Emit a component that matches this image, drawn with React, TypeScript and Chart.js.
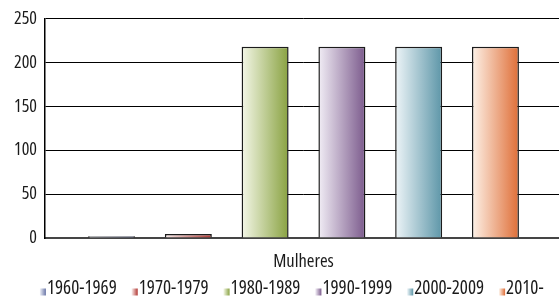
import { useEffect, useRef } from "react";
import { Chart, registerables } from "chart.js";

Chart.register(...registerables);

const categories = ["Mulheres"];
const seriesLabels = ["1960-1969", "1970-1979", "1980-1989", "1990-1999", "2000-2009", "2010-"];
const values1960 = [2];
const values1970 = [4.5];
const values1980 = [218];
const values1990 = [218];
const values2000 = [218];
const values2010 = [218];
const seriesValues = [values1960, values1970, values1980, values1990, values2000, values2010];
const seriesColors = ["#6a76a8", "#b13733", "#89a241", "#7c5b8d", "#5d96a8", "#df6e37"];
const seriesLight = ["#eef0f7", "#faeeed", "#f4f7e8", "#f1edf5", "#eef5f8", "#fdf2e8"];
const yMin = 0;
const yMax = 250;
const yStep = 50;

const FAMILY = "'Open Sans', 'Liberation Sans', sans-serif";
const STRETCH = "condensed";

function makeMarker(i: number): HTMLCanvasElement {
  const c = document.createElement("canvas");
  c.width = 24;
  c.height = 20;
  const g = c.getContext("2d")!;
  const grad = g.createLinearGradient(15, 0, 21, 0);
  grad.addColorStop(0, seriesLight[i]);
  grad.addColorStop(1, seriesColors[i]);
  g.fillStyle = grad;
  g.fillRect(15, 10, 6, 7);
  return c;
}

export default function App() {
  const ref = useRef<HTMLCanvasElement | null>(null);

  useEffect(() => {
    if (!ref.current) return;
    const markers = seriesLabels.map((_, i) => makeMarker(i));
    const datasets = seriesLabels.map((label, i) => ({
      label,
      data: seriesValues[i],
      backgroundColor: (c: any) => {
        const el = c.element as any;
        if (!el || typeof el.x !== "number" || !isFinite(el.x) || !el.width) return seriesColors[i];
        const g = c.chart.ctx.createLinearGradient(el.x - el.width / 2, 0, el.x + el.width / 2, 0);
        g.addColorStop(0, seriesLight[i]);
        g.addColorStop(1, seriesColors[i]);
        return g;
      },
      borderColor: "#1c1c1c",
      borderWidth: 1.5,
      categoryPercentage: 0.891,
      barPercentage: 0.612,
    }));

    const chart = new Chart(ref.current, {
      type: "bar",
      data: { labels: categories, datasets },
      options: {
        responsive: false,
        animation: false,
        layout: { padding: { left: 0, top: 18, right: 0, bottom: 0 } },
        plugins: {
          tooltip: { enabled: false },
          legend: {
            position: "bottom",
            align: "center",
            labels: {
              usePointStyle: true,
              boxWidth: 1,
              padding: 11.5,
              color: "#1a1a1a",
              font: { family: FAMILY, size: 19, weight: STRETCH as any },
              generateLabels: () =>
                seriesLabels.map((text, i) => ({
                  text,
                  pointStyle: markers[i],
                  fillStyle: seriesColors[i],
                  strokeStyle: "transparent",
                  lineWidth: 0,
                  hidden: false,
                  datasetIndex: i,
                  fontColor: "#1a1a1a",
                })) as any,
            },
          },
        },
        scales: {
          x: {
            grid: { display: false },
            border: { display: true, color: "#454545", width: 2 },
            ticks: { color: "#1a1a1a", font: { family: FAMILY, size: 18.5, weight: STRETCH as any }, padding: 5 },
            afterFit: (s: any) => {
              s.height = 29.5;
            },
          },
          y: {
            min: yMin,
            max: yMax,
            grid: {
              color: (c: any) => (c.tick && c.tick.value === 0 ? "rgba(0,0,0,0)" : "#000"),
              lineWidth: 1,
              drawTicks: false,
            },
            border: { display: true, color: "#000", width: 1.5 },
            ticks: {
              stepSize: yStep,
              color: "#1a1a1a",
              font: { family: FAMILY, size: 18, weight: STRETCH as any },
              padding: 8,
            },
            afterFit: (s: any) => {
              s.width = 45;
            },
          },
          y2: {
            position: "right",
            display: true,
            grid: { display: false, drawOnChartArea: false },
            border: { display: false },
            ticks: { display: false },
            afterFit: (s: any) => {
              s.width = 18;
            },
          },
        },
      },
    });
    chart.update();
    return () => chart.destroy();
  }, []);

  return (
    <div style={{ position: "fixed", left: 0, top: 0, width: 559, height: 298, overflow: "hidden", background: "#fff" }}>
      <canvas ref={ref} width={580} height={308} style={{ display: "block" }} />
    </div>
  );
}
